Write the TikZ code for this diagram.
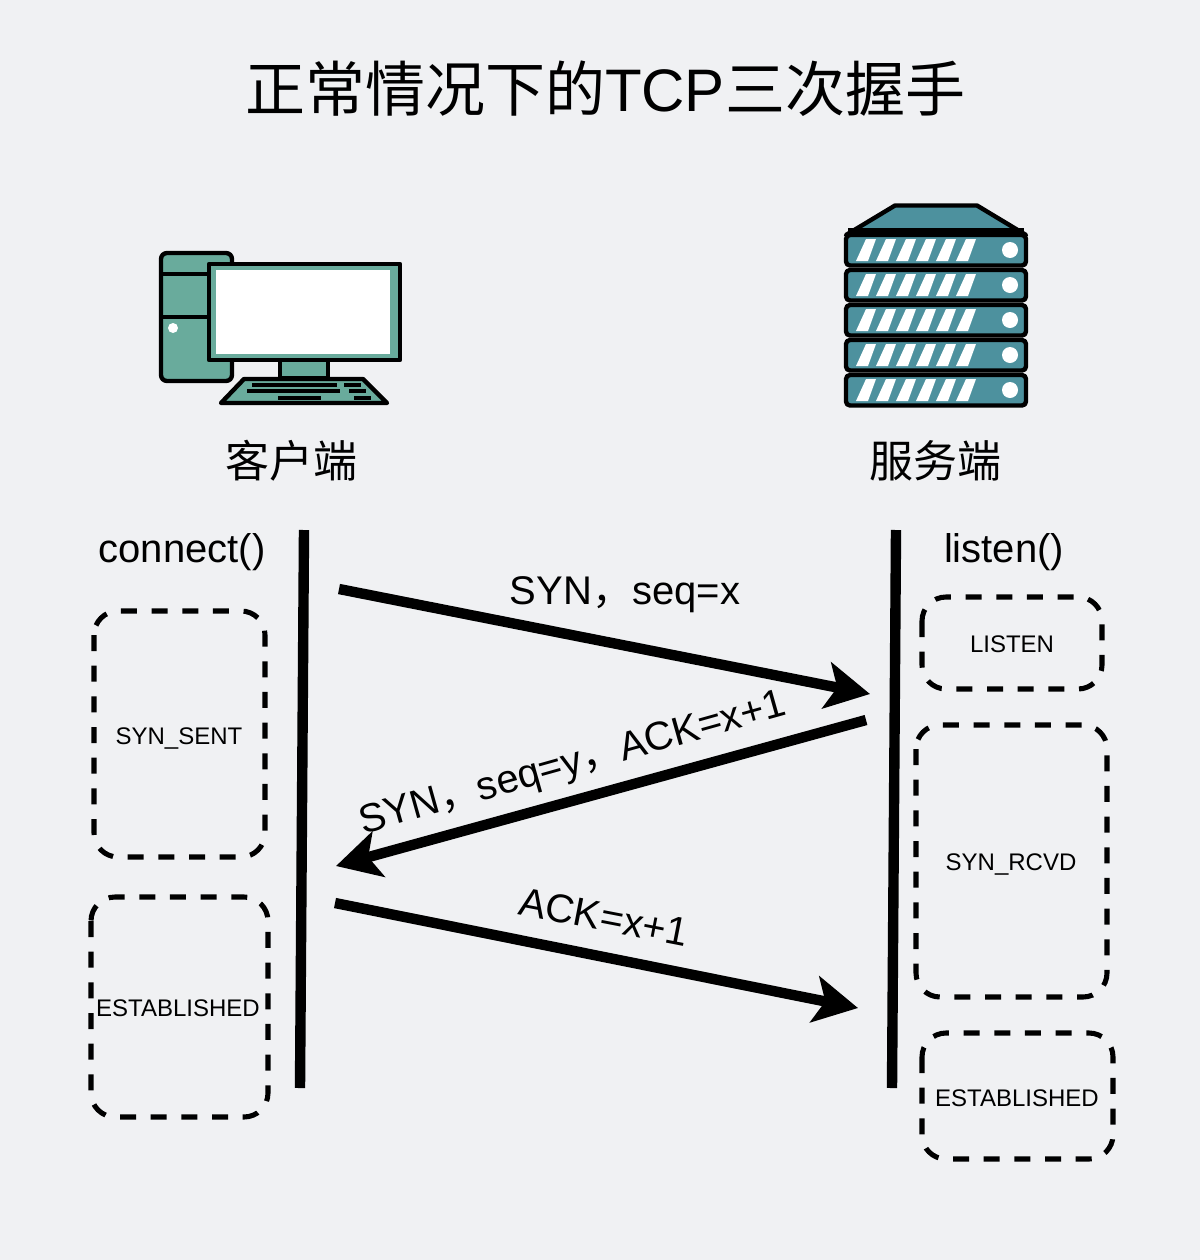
\documentclass[tikz,border=0pt]{standalone}
\usepackage{fontspec}
\setmainfont{Liberation Sans}
\newfontfamily\cjk{Noto Sans CJK SC}
\usetikzlibrary{arrows.meta}
\definecolor{bgc}{HTML}{F0F1F3}
\definecolor{pcc}{HTML}{69AB9C}
\definecolor{svc}{HTML}{4D919E}
\tikzset{
  wire/.style={line width=7.8pt,draw=black},
  msg/.style={wire,-{Stealth[length=33pt,width=35pt,inset=8pt]}},
  statebox/.style={draw=black,line width=3.8pt,dash pattern=on 12pt off 11pt,rounded corners=18pt,fill=none},
  lbl/.style={inner sep=0pt,font=\fontsize{30}{36}\selectfont,text=black},
  statelbl/.style={inner sep=0pt,font=\fontsize{18}{22}\selectfont,text=black},
  headlbl/.style={inner sep=0pt,font=\cjk\fontsize{33}{39}\selectfont,text=black},
  ico/.style={line width=3.3pt,draw=black,line join=round},
}
\begin{document}
\begin{tikzpicture}[x=0.75pt,y=-0.75pt]
\path[use as bounding box,fill=bgc] (0,0) rectangle (1200,1260);
\node[inner sep=0pt,font=\fontsize{45}{54}\selectfont] (title) at (605,89) {{\cjk 正常情况下的}TCP{\cjk 三次握手}};
% computer
\draw[ico,fill=pcc,rounded corners=4.5pt] (161,253) rectangle (232,381);
\draw[ico] (161,274) -- (210,274);
\draw[ico] (161,317) -- (210,317);
\fill[white] (173,328) circle (5);
\draw[ico,fill=pcc] (280,360) rectangle (328,378);
\draw[ico,fill=pcc] (209,264) rectangle (400,360);
\fill[white] (216,270) rectangle (390,354);
\draw[ico,fill=pcc] (244,379) -- (363,379) -- (387,403) -- (221,403) -- cycle;
\foreach \a/\b/\c in {252/337/383,344/361/383,247/340/389,349/366/389,278/321/396,354/371/396}
  \fill[black] (\a,\c) rectangle (\b,\c+4);
% server
\draw[ico,fill=svc] (895,205.5) -- (977,205.5) -- (1026,235) -- (846,235) -- cycle;
\fill[black] (848,228) rectangle (1024,236);
\foreach \d in {0,35,70,105,140}{
  \draw[ico,fill=svc,rounded corners=3pt] (846,235+\d) rectangle (1026,265.5+\d);
  \foreach \e in {0,20,40,60,80,100}
    \fill[white] (856+\e,261+\d) -- (868+\e,261+\d) -- (876+\e,239+\d) -- (866+\e,239+\d) -- cycle;
  \fill[white] (1010,250+\d) circle (8);
}
\node[headlbl] (client) at (291,461) {客户端};
\node[headlbl] (server) at (935,461) {服务端};
% lifelines
\coordinate (lt) at (304,530); \coordinate (lb) at (300,1088);
\coordinate (rt) at (896,530); \coordinate (rb) at (892,1088);
\draw[wire] (lt) -- (lb);
\draw[wire] (rt) -- (rb);
\node[lbl] (conn) at (182,552) {connect()};
\node[lbl] (lis) at (1004,552) {listen()};
% state boxes
\draw[statebox] (94,611) rectangle (265,857);
\draw[statebox] (91,897) rectangle (268,1117);
\draw[statebox] (922,597) rectangle (1102,689);
\draw[statebox] (916,725) rectangle (1107,997);
\draw[statebox] (922,1033) rectangle (1113,1159);
\node[statelbl] (s1) at (179,738) {SYN\_SENT};
\node[statelbl] (s2) at (178,1008) {ESTABLISHED};
\node[statelbl] (s3) at (1012,644) {LISTEN};
\node[statelbl] (s4) at (1011,864) {SYN\_RCVD};
\node[statelbl] (s5) at (1017,1098) {ESTABLISHED};
% messages
\coordinate (a1s) at (339,589); \coordinate (a1e) at (870,694);
\coordinate (a2s) at (866,720); \coordinate (a2e) at (336,866);
\coordinate (a3s) at (335,903); \coordinate (a3e) at (858,1008);
\draw[msg] (a1s) -- (a1e);
\draw[msg] (a2s) -- (a2e);
\draw[msg] (a3s) -- (a3e);
\node[lbl] (m1) at (625,595) {SYN{\cjk ，}seq=x};
\node[lbl,rotate=15.7] (m2) at (573,765) {SYN{\cjk ，}seq=y{\cjk ，}ACK=x+1};
\node[lbl,rotate=-11] (m3) at (604,917) {ACK=x+1};
\end{tikzpicture}
\end{document}
